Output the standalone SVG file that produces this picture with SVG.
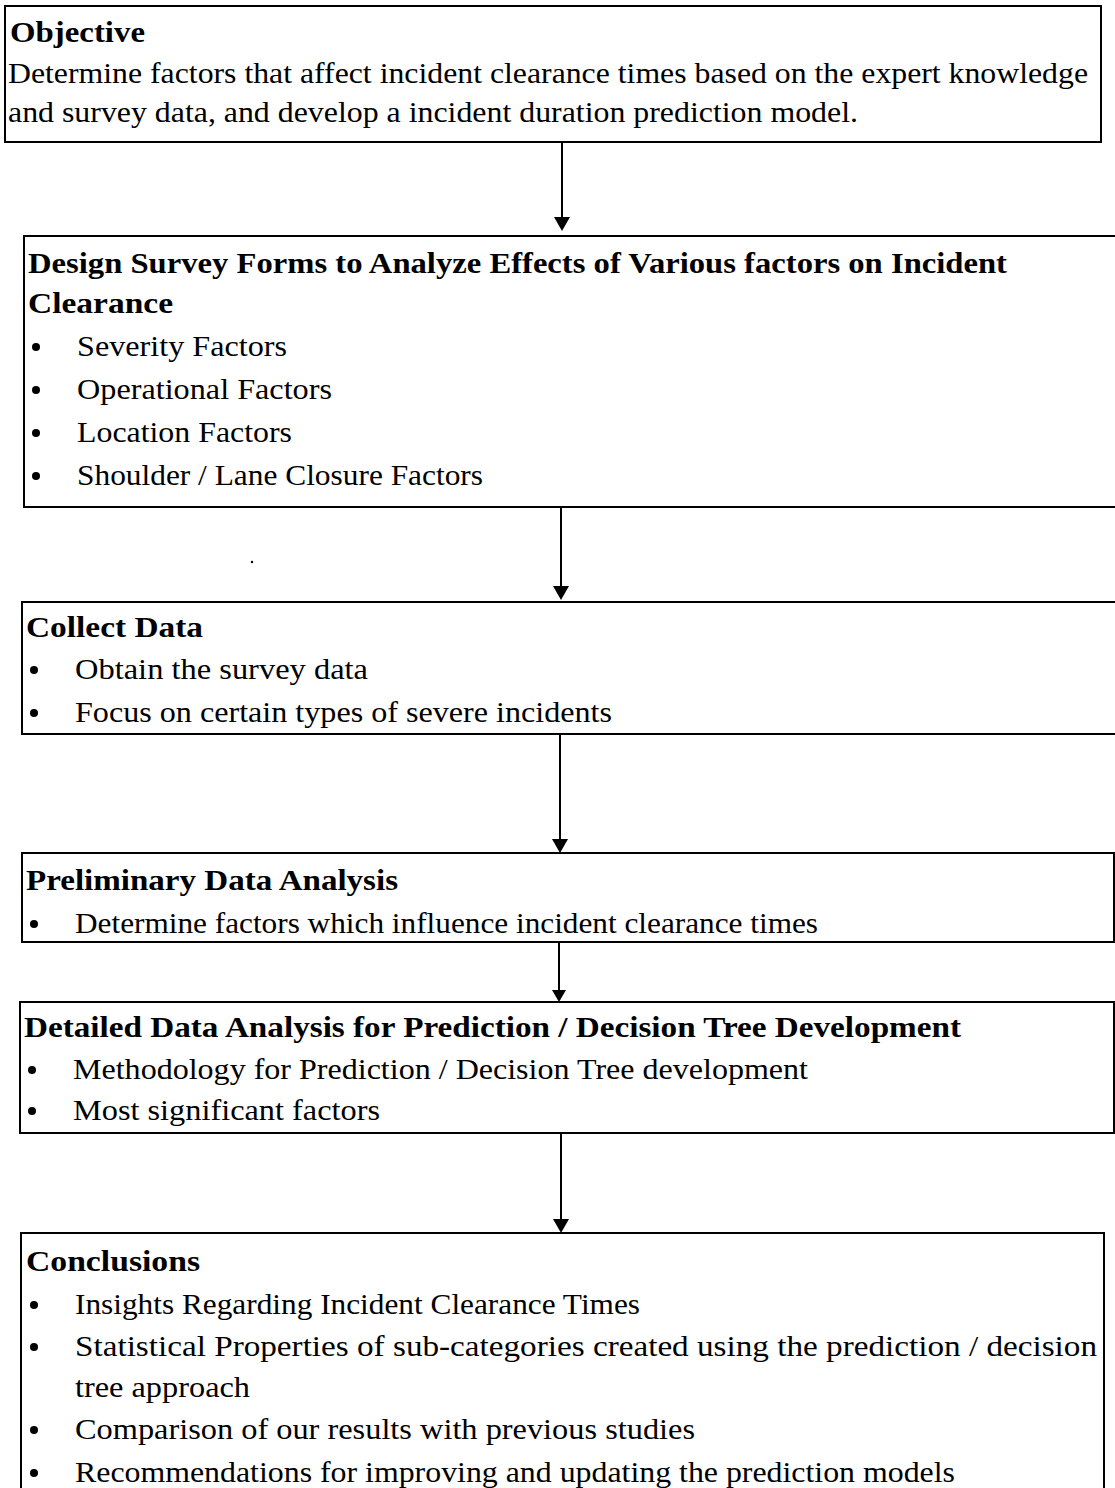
<svg xmlns="http://www.w3.org/2000/svg" width="1115" height="1488" viewBox="0 0 1115 1488">
<defs>
<style>
.box{fill:#fff;stroke:#000;stroke-width:2}
.t{font-family:"Liberation Serif","Times New Roman",serif;font-size:30px;fill:#000}
.h{font-family:"Liberation Serif","Times New Roman",serif;font-size:29px;font-weight:bold;fill:#000}
.conn{stroke:#000;stroke-width:2;fill:none}
.dot{fill:#000}
.head{fill:#000}
</style>
</defs>
<rect width="1115" height="1488" fill="#fff"/>
<g id="connectors">
<line class="conn" x1="562" y1="143" x2="562" y2="220"/>
<path class="head" d="M554,217 L570,217 L562,231 Z"/>
<line class="conn" x1="561" y1="507" x2="561" y2="590"/>
<path class="head" d="M553,586 L569,586 L561,600 Z"/>
<line class="conn" x1="560" y1="734" x2="560" y2="842"/>
<path class="head" d="M552,839 L568,839 L560,853 Z"/>
<line class="conn" x1="559" y1="942" x2="559" y2="993"/>
<path class="head" d="M552,990 L566,990 L559,1002 Z"/>
<line class="conn" x1="561" y1="1133" x2="561" y2="1222"/>
<path class="head" d="M553,1219 L569,1219 L561,1233 Z"/>
</g>
<g id="objective">
<rect class="box" x="5" y="6" width="1096" height="136"/>
<text class="h" x="10" y="42" textLength="135" lengthAdjust="spacingAndGlyphs">Objective</text>
<text class="t" x="8" y="83" textLength="1080" lengthAdjust="spacingAndGlyphs">Determine factors that affect incident clearance times based on the expert knowledge</text>
<text class="t" x="8" y="122" textLength="850" lengthAdjust="spacingAndGlyphs">and survey data, and develop a incident duration prediction model.</text>
</g>
<g id="design">
<rect class="box" x="24" y="236" width="1100" height="271"/>
<text class="h" x="28" y="273" textLength="979" lengthAdjust="spacingAndGlyphs">Design Survey Forms to Analyze Effects of Various factors on Incident</text>
<text class="h" x="28" y="313" textLength="145" lengthAdjust="spacingAndGlyphs">Clearance</text>
<circle class="dot" cx="36" cy="347" r="4"/>
<text class="t" x="77" y="356" textLength="210" lengthAdjust="spacingAndGlyphs">Severity Factors</text>
<circle class="dot" cx="36" cy="390" r="4"/>
<text class="t" x="77" y="399" textLength="255" lengthAdjust="spacingAndGlyphs">Operational Factors</text>
<circle class="dot" cx="36" cy="433" r="4"/>
<text class="t" x="77" y="442" textLength="215" lengthAdjust="spacingAndGlyphs">Location Factors</text>
<circle class="dot" cx="36" cy="476" r="4"/>
<text class="t" x="77" y="485" textLength="406" lengthAdjust="spacingAndGlyphs">Shoulder / Lane Closure Factors</text>
</g>
<circle class="dot" cx="252" cy="562" r="1.2"/>
<g id="collect">
<rect class="box" x="22" y="602" width="1100" height="132"/>
<text class="h" x="26" y="637" textLength="177" lengthAdjust="spacingAndGlyphs">Collect Data</text>
<circle class="dot" cx="34" cy="670" r="4"/>
<text class="t" x="75" y="679" textLength="293" lengthAdjust="spacingAndGlyphs">Obtain the survey data</text>
<circle class="dot" cx="34" cy="713" r="4"/>
<text class="t" x="75" y="722" textLength="537" lengthAdjust="spacingAndGlyphs">Focus on certain types of severe incidents</text>
</g>
<g id="preliminary">
<rect class="box" x="22" y="853" width="1092" height="89"/>
<text class="h" x="26" y="890" textLength="372" lengthAdjust="spacingAndGlyphs">Preliminary Data Analysis</text>
<circle class="dot" cx="34" cy="924" r="4"/>
<text class="t" x="75" y="933" textLength="743" lengthAdjust="spacingAndGlyphs">Determine factors which influence incident clearance times</text>
</g>
<g id="detailed">
<rect class="box" x="20" y="1002" width="1094" height="131"/>
<text class="h" x="24" y="1037" textLength="937" lengthAdjust="spacingAndGlyphs">Detailed Data Analysis for Prediction / Decision Tree Development</text>
<circle class="dot" cx="32" cy="1070" r="4"/>
<text class="t" x="73" y="1079" textLength="735" lengthAdjust="spacingAndGlyphs">Methodology for Prediction / Decision Tree development</text>
<circle class="dot" cx="32" cy="1111" r="4"/>
<text class="t" x="73" y="1120" textLength="307" lengthAdjust="spacingAndGlyphs">Most significant factors</text>
</g>
<g id="conclusions">
<rect class="box" x="21" y="1233" width="1083" height="270"/>
<text class="h" x="26" y="1271" textLength="174" lengthAdjust="spacingAndGlyphs">Conclusions</text>
<circle class="dot" cx="34" cy="1305" r="4"/>
<text class="t" x="75" y="1314" textLength="565" lengthAdjust="spacingAndGlyphs">Insights Regarding Incident Clearance Times</text>
<circle class="dot" cx="34" cy="1347" r="4"/>
<text class="t" x="75" y="1356" textLength="1022" lengthAdjust="spacingAndGlyphs">Statistical Properties of sub-categories created using the prediction / decision</text>
<text class="t" x="75" y="1397" textLength="175" lengthAdjust="spacingAndGlyphs">tree approach</text>
<circle class="dot" cx="34" cy="1430" r="4"/>
<text class="t" x="75" y="1439" textLength="620" lengthAdjust="spacingAndGlyphs">Comparison of our results with previous studies</text>
<circle class="dot" cx="34" cy="1473" r="4"/>
<text class="t" x="75" y="1482" textLength="880" lengthAdjust="spacingAndGlyphs">Recommendations for improving and updating the prediction models</text>
</g>
</svg>
